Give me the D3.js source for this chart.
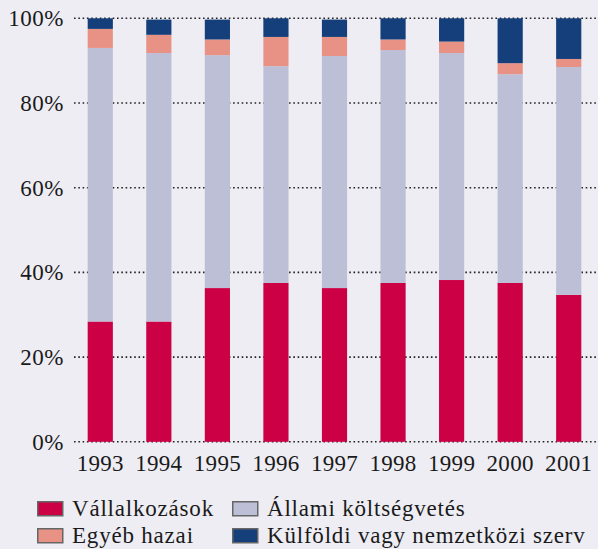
<!DOCTYPE html>
<html>
<head>
<meta charset="utf-8">
<script src="https://cdn.jsdelivr.net/npm/d3@7"></script>
<style>
  body { margin: 0; background: #eeedf4; }
  svg { display: block; }
  text { font-family: "Liberation Serif", "DejaVu Serif", serif; fill: #1a1a1a; }
</style>
</head>
<body>
<svg width="598" height="549"></svg>
<script>
// Years and shares (%) of each funding source
const years = ['1993', '1994', '1995', '1996', '1997', '1998', '1999', '2000', '2001']
const vallalkozasok = [28.4, 28.4, 36.3, 37.5, 36.3, 37.5, 38.2, 37.5, 34.7]
const allami = [64.6, 63.4, 55.0, 51.2, 54.8, 55.0, 53.6, 49.3, 53.8]
const egyeb = [4.5, 4.3, 3.7, 6.9, 4.5, 2.5, 2.7, 2.6, 1.9]
const kulfoldi = [2.5, 3.6, 4.7, 4.4, 4.1, 5.0, 5.5, 10.6, 9.6]
const yTicks = [0, 20, 40, 60, 80, 100]

const series = [
    { name: 'Vállalkozások', values: vallalkozasok, color: '#cc0044' },
    { name: 'Állami költségvetés', values: allami, color: '#bdbfd6' },
    { name: 'Egyéb hazai', values: egyeb, color: '#e89185' },
    { name: 'Külföldi vagy nemzetközi szerv', values: kulfoldi, color: '#153f7a' },
]

const svg = d3.select('svg')

const x = d3.scaleBand()
    .domain(years)
    .range([71, 598])
    .paddingInner(0.57)
    .paddingOuter(0.285)

const y = d3.scaleLinear()
    .domain([0, 100])
    .range([441.8, 18.3])

// dotted grid lines
svg.append('g')
    .selectAll('line')
    .data(yTicks)
    .enter()
    .append('line')
    .attr('x1', 74)
    .attr('x2', 598)
    .attr('y1', d => y(d))
    .attr('y2', d => y(d))
    .style('stroke', '#222')
    .style('stroke-width', 1.6)
    .style('stroke-dasharray', '1.6,2.7')

// y labels
svg.append('g')
    .selectAll('text')
    .data(yTicks)
    .enter()
    .append('text')
    .attr('x', 64)
    .attr('y', d => y(d))
    .attr('dy', '0.34em')
    .attr('text-anchor', 'end')
    .style('font-size', '23px')
    .style('letter-spacing', '0.5px')
    .text(d => d + '%')

// stack the segments
const rows = years.map((yr, i) => {
    const r = { year: yr }
    series.forEach(s => { r[s.name] = s.values[i] })
    return r
})
const stacked = d3.stack().keys(series.map(s => s.name))(rows)

svg.append('g')
    .selectAll('g')
    .data(stacked)
    .enter()
    .append('g')
    .style('fill', (d, i) => series[i].color)
    .selectAll('rect')
    .data(d => d)
    .enter()
    .append('rect')
    .attr('x', d => x(d.data.year))
    .attr('width', x.bandwidth())
    .attr('y', d => y(d[1]))
    .attr('height', d => y(d[0]) - y(d[1]))

// x labels
svg.append('g')
    .selectAll('text')
    .data(years)
    .enter()
    .append('text')
    .attr('x', d => x(d) + x.bandwidth() / 2)
    .attr('y', 471)
    .attr('text-anchor', 'middle')
    .style('font-size', '23px')
    .style('letter-spacing', '0.3px')
    .text(d => d)

// legend
const legendPos = [
    { x: 37, y: 501 },
    { x: 232, y: 501 },
    { x: 37, y: 528 },
    { x: 232, y: 528 },
]
const legend = svg.append('g')
    .selectAll('g')
    .data(series)
    .enter()
    .append('g')
    .attr('transform', (d, i) => `translate(${legendPos[i].x},${legendPos[i].y})`)

legend.append('rect')
    .attr('x', 0.75)
    .attr('y', 0.75)
    .attr('width', 25)
    .attr('height', 14)
    .style('fill', d => d.color)
    .style('stroke', '#666')
    .style('stroke-width', 1.5)

legend.append('text')
    .attr('x', 35)
    .attr('y', 14.5)
    .style('font-size', '23px')
    .style('letter-spacing', '0.8px')
    .text(d => d.name)
</script>
</body>
</html>
